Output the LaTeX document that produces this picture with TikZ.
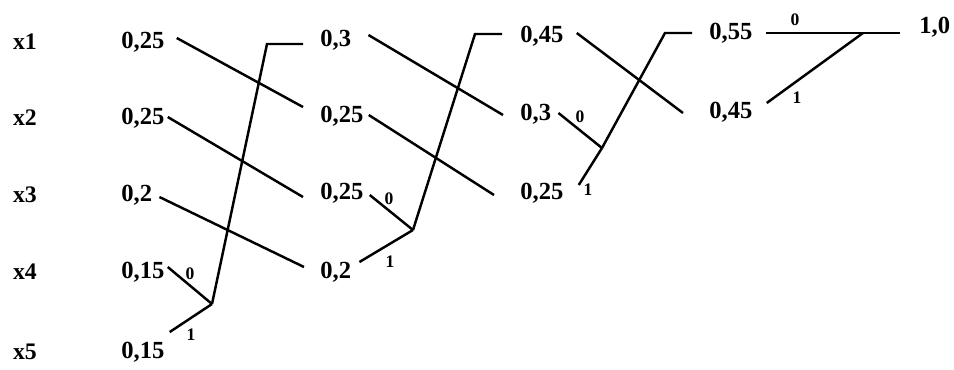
\documentclass[tikz,border=0pt]{standalone}
\usepackage{fontspec}
\setmainfont{Liberation Serif}
\usetikzlibrary{calc}
\tikzset{
  sym/.style={font=\fontsize{13.5}{15}\selectfont\bfseries,inner sep=0pt},
  val/.style={font=\fontsize{14}{16}\selectfont\bfseries,inner sep=0pt,anchor=west},
  bit/.style={font=\fontsize{10}{11}\selectfont\bfseries,inner sep=0pt},
  wire/.style={line width=1.4pt}
}
\begin{document}
\begin{tikzpicture}[x=0.02cm,y=-0.02cm]
\useasboundingbox (0,0) rectangle (954,369);
% symbols
\node[sym] (x1) at (25,42) {x1};
\node[sym] (x2) at (25,118) {x2};
\node[sym] (x3) at (25,195) {x3};
\node[sym] (x4) at (25,272) {x4};
\node[sym] (x5) at (25,352) {x5};
% step 1
\node[val] (a1) at (121,42) {0,25};
\node[val] (a2) at (121,118) {0,25};
\node[val] (a3) at (121,195) {0,2};
\node[val] (a4) at (121,272) {0,15};
\node[val] (a5) at (121,352) {0,15};
% step 2
\node[val] (b1) at (320,40) {0,3};
\node[val] (b2) at (320,116) {0,25};
\node[val] (b3) at (320,193) {0,25};
\node[val] (b4) at (320,272) {0,2};
% step 3
\node[val] (c1) at (520,36) {0,45};
\node[val] (c2) at (520,114) {0,3};
\node[val] (c3) at (520,193) {0,25};
% step 4
\node[val] (d1) at (709,33) {0,55};
\node[val] (d2) at (709,112) {0,45};
\node[val] (e) at (919,27) {1,0};
% merge points and corners
\coordinate (m1) at (212,304); \coordinate (k1) at (267,44);
\coordinate (m2) at (413,230); \coordinate (k2) at (475,34);
\coordinate (m3) at (602,148); \coordinate (k3) at (665,33);
\coordinate (m4) at (863,33);
% 1 -> 2
\draw[wire] ([shift={(12,-4)}]a1.east) -- ([shift={(-17,-9)}]b2.west);
\draw[wire] ([shift={(3,-1)}]a2.east) -- ([shift={(-17,4)}]b3.west);
\draw[wire] ([shift={(7,2)}]a3.east) -- ([shift={(-16,-5)}]b4.west);
\draw[wire] ([shift={(3,-5)}]a4.east) -- (m1);
\draw[wire] ([shift={(5,-20)}]a5.east) -- (m1);
\draw[wire] (m1) -- (k1) -- ([shift={(-17,4)}]b1.west);
\node[bit] (n0) at (190,274) {0};
\node[bit] (n1) at (191,335) {1};
% 2 -> 3
\draw[wire] ([shift={(17,-5)}]b1.east) -- ([shift={(-17,1)}]c2.west);
\draw[wire] ([shift={(5,-1)}]b2.east) -- ([shift={(-26,2)}]c3.west);
\draw[wire] ([shift={(6,2)}]b3.east) -- (m2);
\draw[wire] ([shift={(8,-10)}]b4.east) -- (m2);
\draw[wire] (m2) -- (k2) -- ([shift={(-18,-2)}]c1.west);
\node[bit] (n2) at (389,199) {0};
\node[bit] (n3) at (390,262) {1};
% 3 -> 4
\draw[wire] ([shift={(13,-3)}]c1.east) -- ([shift={(-26,1)}]d2.west);
\draw[wire] ([shift={(7,-1)}]c2.east) -- (m3);
\draw[wire] ([shift={(15,-8)}]c3.east) -- (m3);
\draw[wire] (m3) -- (k3) -- ([shift={(-17,0)}]d1.west);
\node[bit] (n4) at (580,117) {0};
\node[bit] (n5) at (588,190) {1};
% 4 -> root
\draw[wire] ([shift={(13,0)}]d1.east) -- ([shift={(-19,6)}]e.west);
\draw[wire] ([shift={(14,-9)}]d2.east) -- (m4);
\node[bit] (n6) at (795,20) {0};
\node[bit] (n7) at (797,98) {1};
\end{tikzpicture}
\end{document}
